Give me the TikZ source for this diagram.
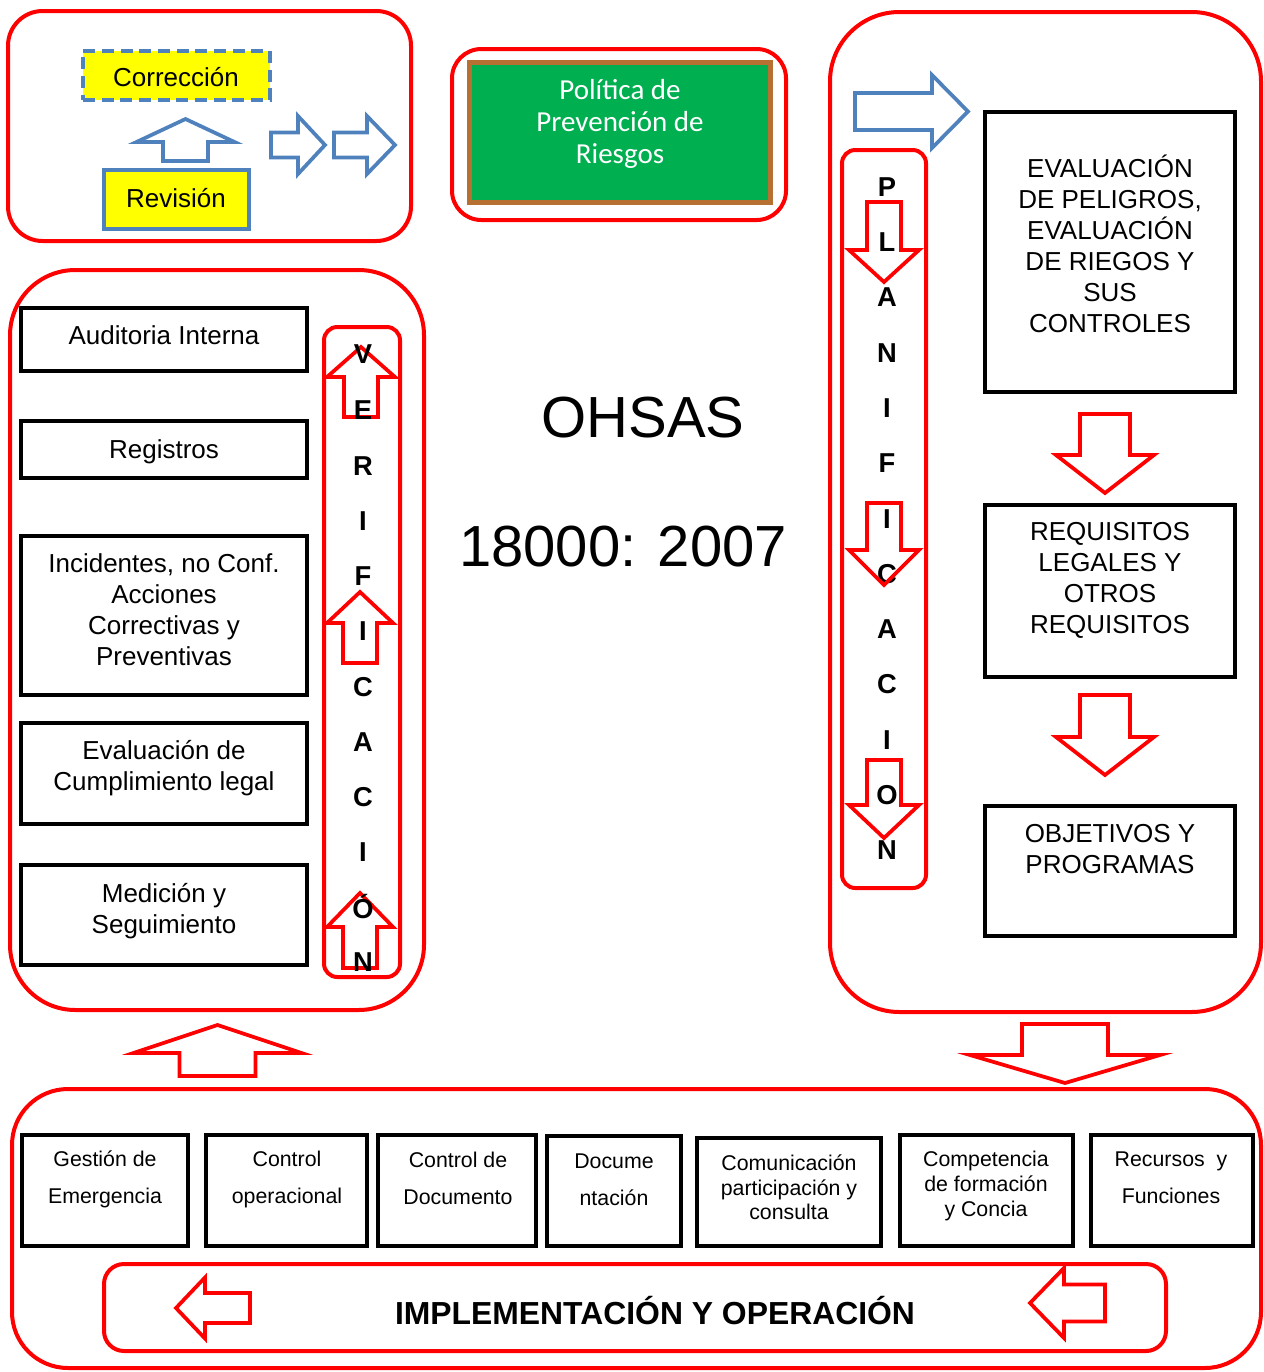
\documentclass[tikz,border=0pt]{standalone}
\usepackage{fontspec}
\setmainfont{Liberation Sans}
\newfontfamily\calib{Carlito}
\usetikzlibrary{fit}
\definecolor{rd}{RGB}{255,0,0}
\definecolor{bl}{RGB}{79,129,189}
\definecolor{yl}{RGB}{255,255,0}
\definecolor{gr}{RGB}{0,176,80}
\definecolor{brn}{RGB}{182,112,50}
% vertical block arrow: style, cx, tip, base, end, head half width, shaft half width
\newcommand\vblk[7]{\draw[#1] (#2,#3) -- ({#2+#6},#4) -- ({#2+#7},#4) -- ({#2+#7},#5) -- ({#2-#7},#5) -- ({#2-#7},#4) -- ({#2-#6},#4) -- cycle;}
% horizontal block arrow: style, cy, tip, base, end, head half width, shaft half width
\newcommand\hblk[7]{\draw[#1] (#3,#2) -- (#4,{#2-#6}) -- (#4,{#2-#7}) -- (#5,{#2-#7}) -- (#5,{#2+#7}) -- (#4,{#2+#7}) -- (#4,{#2+#6}) -- cycle;}
\tikzset{
 frame/.style={draw=rd, line width=3pt, inner sep=0pt},
 blackbox/.style={draw=black, line width=3.4pt, inner sep=0pt},
 rarrow/.style={draw=rd, line width=2.8pt, line join=miter},
 barrow/.style={draw=bl, line width=2.8pt, line join=miter},
 txt/.style={inner sep=0pt, align=center, font=\fontsize{19.5}{23.2}\selectfont},
 small/.style={inner sep=0pt, align=center, font=\fontsize{16}{27.75}\selectfont},
 smalltight/.style={inner sep=0pt, align=center, font=\fontsize{16}{18.4}\selectfont},
 col/.style={inner sep=0pt, font=\fontsize{20.5}{24}\selectfont\bfseries},
}
\begin{document}
\begin{tikzpicture}[x=0.75pt, y=-0.75pt]
\useasboundingbox (0,0) rectangle (1264,1372);
% ---- frames
\node[frame, rounded corners=26pt, fit={(8,11) (411,241)}] (topleft) {};
\node[frame, rounded corners=22pt, fit={(452,49) (786,220)}] (polframe) {};
\node[draw=brn, line width=3.75pt, fill=gr, inner sep=0pt, fit={(469.5,62.5) (770.5,202.5)}] (policy) {};
\node[frame, rounded corners=49pt, fit={(10,270) (424,1010)}] (verframe) {};
\node[frame, rounded corners=52pt, fit={(830,12) (1261,1012)}] (planframe) {};
\node[frame, rounded corners=42pt, fit={(12,1089) (1261,1368)}] (impframe) {};
\node[frame, rounded corners=10pt, fit={(324,327) (400,977)}] (vercol) {};
\node[frame, rounded corners=10pt, fit={(842,150) (926,888)}] (plancol) {};
\node[frame, rounded corners=15pt, fit={(104,1264) (1166,1351)}] (impbar) {};
% ---- top-left
\node[draw=bl, dash pattern=on 9pt off 5pt, line width=2.6pt, fill=yl, inner sep=0pt, fit={(83,51) (270,100)}] (corr) {};
\node[draw=bl, line width=3pt, fill=yl, inner sep=0pt, fit={(104,170) (249,229)}] (rev) {};
\node[txt] (corrT) at (176,77) {Corrección};
\node[txt] (revT) at (176,198) {Revisión};
\vblk{barrow}{185.5}{119}{142}{161}{49}{22.5}
\hblk{barrow}{145}{325}{298}{271}{29}{12.5}
\hblk{barrow}{145}{395}{367}{334}{29}{12.5}
% ---- policy
\node[inner sep=0pt, align=center, text=white, font=\calib\fontsize{21.75}{23.8}\selectfont] (polT) at (620,124) {Política de\\Prevención de\\Riesgos};
% ---- centre
\node[inner sep=0pt, font=\fontsize{43.5}{50}\selectfont] (ohsas) at (643,418) {OHSAS};
\node[inner sep=0pt, font=\fontsize{43.5}{50}\selectfont] (norm) at (623,547) {18000: 2007};
% ---- left boxes
\node[blackbox, fit={(21,308) (307,371)}] (audit) {};
\node[blackbox, fit={(21,421) (307,478)}] (reg) {};
\node[blackbox, fit={(21,536) (307,695)}] (inc) {};
\node[blackbox, fit={(21,723) (307,824)}] (evalc) {};
\node[blackbox, fit={(21,865) (307,965)}] (med) {};
\node[txt] (auditT) at (164,335) {Auditoria Interna};
\node[txt] (regT) at (164,452) {Registros};
\node[txt] (incT) at (164,609.5) {Incidentes, no Conf.\\Acciones\\Correctivas y\\Preventivas};
\node[txt] (evalcT) at (164,768) {Evaluación de\\Cumplimiento legal};
\node[txt] (medT) at (164,911) {Medición y\\Seguimiento};
% ---- verification column
\vblk{rarrow}{361}{347}{377}{417}{34}{17}
\vblk{rarrow}{360}{592}{623}{663}{33}{17}
\vblk{rarrow}{360}{893}{927}{968}{33}{17}
\foreach \l/\yy [count=\i] in {V/354,E/410,R/466,I/521,F/576,I/631,C/687,A/742,C/797,I/852,Ó/907,N/962}
  \node[col] (ver\i) at (363,\yy) {\l};
% ---- right boxes
\hblk{barrow}{111.5}{968}{932}{855}{36.5}{18.5}
\node[blackbox, fit={(985,112) (1235,392)}] (evp) {};
\node[blackbox, fit={(985,505) (1235,677)}] (req) {};
\node[blackbox, fit={(985,806) (1235,936)}] (obj) {};
\node[txt] (evpT) at (1110,244) {EVALUACIÓN\\DE PELIGROS,\\EVALUACIÓN\\DE RIEGOS Y\\SUS\\CONTROLES};
\node[txt] (reqT) at (1110,580) {REQUISITOS\\LEGALES Y\\OTROS\\REQUISITOS};
\node[txt] (objT) at (1110,849) {OBJETIVOS Y\\PROGRAMAS};
\vblk{rarrow}{1105}{493}{455}{414}{49}{25}
\vblk{rarrow}{1105}{775}{737}{695}{49}{25}
% ---- planning column
\foreach \l/\yy [count=\i] in {P/187,L/242,A/297,N/353,I/408,F/463,I/519,C/574,A/629,C/684,I/740,O/795,N/850}
  \node[col] (plan\i) at (887,\yy) {\l};
\vblk{rarrow}{884}{282}{250}{202}{35}{17}
\vblk{rarrow}{884}{585}{550}{503}{35}{17}
\vblk{rarrow}{884}{838}{805}{760}{35}{17}
% ---- arrows between sections
\vblk{rarrow}{217.5}{1025}{1053}{1076}{84}{38}
\vblk{rarrow}{1065}{1083}{1055}{1024}{95}{43}
% ---- bottom boxes
\node[blackbox, fit={(22,1135) (188,1246)}] (b1) {};
\node[blackbox, fit={(206,1135) (367,1246)}] (b2) {};
\node[blackbox, fit={(378,1135) (536,1246)}] (b3) {};
\node[blackbox, fit={(547,1136) (681,1246)}] (b4) {};
\node[blackbox, fit={(697,1138) (881,1246)}] (b5) {};
\node[blackbox, fit={(900,1135) (1073,1246)}] (b6) {};
\node[blackbox, fit={(1091,1135) (1253,1246)}] (b7) {};
\node[small] (b1T) at (105,1179.5) {Gestión de\\Emergencia};
\node[small] (b2T) at (287,1179.5) {Control\\operacional};
\node[small] (b3T) at (458,1178) {Control de\\Documento};
\node[small] (b4T) at (614,1180) {Docume\\ntación};
\node[smalltight] (b5T) at (789,1187.5) {Comunicación\\participación y\\consulta};
\node[smalltight] (b6T) at (986,1186) {Competencia\\de formación\\y Concia};
\node[small] (b7T) at (1171,1177.5) {Recursos\ \ y\\Funciones};
% ---- implementation bar
\hblk{rarrow}{1308}{176}{205}{250}{30.5}{15}
\hblk{rarrow}{1303}{1030}{1064}{1105}{35}{18.5}
\node[inner sep=0pt, font=\fontsize{23.9}{28}\selectfont\bfseries] (impT) at (655,1311) {IMPLEMENTACIÓN Y OPERACIÓN};
\end{tikzpicture}
\end{document}
